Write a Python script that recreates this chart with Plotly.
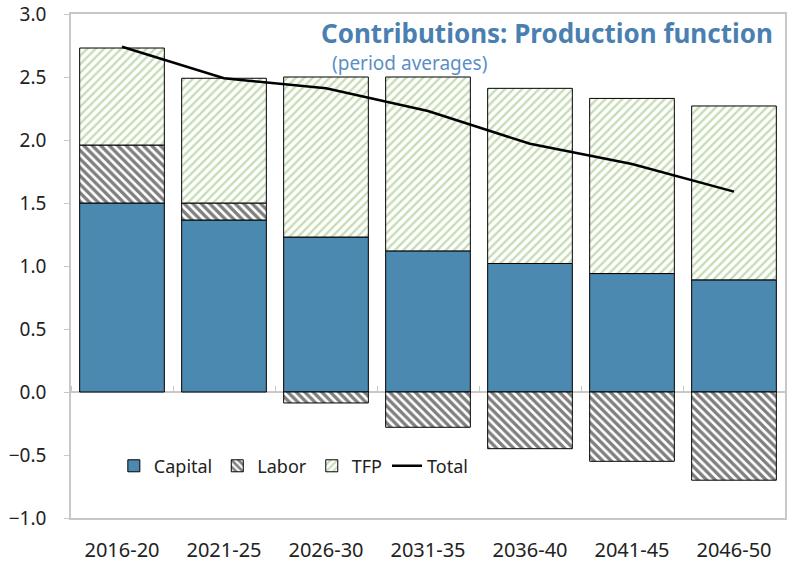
import plotly.graph_objects as go

periods = ["2016-20", "2021-25", "2026-30", "2031-35", "2036-40", "2041-45", "2046-50"]
capital = [1.50, 1.365, 1.23, 1.12, 1.02, 0.94, 0.89]
labor = [0.46, 0.135, -0.087, -0.28, -0.45, -0.55, -0.70]
tfp = [0.77, 0.99, 1.27, 1.38, 1.39, 1.39, 1.38]
total = [2.74, 2.49, 2.41, 2.23, 1.97, 1.81, 1.59]
yticks = [-1.0, -0.5, 0.0, 0.5, 1.0, 1.5, 2.0, 2.5, 3.0]

FONT = "Noto Sans"
fig = go.Figure()
fig.add_trace(go.Bar(x=periods, y=capital, name="Capital",
                     marker=dict(color="#4C89B0", line=dict(color="black", width=1))))
fig.add_trace(go.Bar(x=periods, y=labor, name="Labor",
                     marker=dict(color="white", line=dict(color="black", width=1),
                                 pattern=dict(shape="\\", fgcolor="black", bgcolor="white",
                                              size=6, solidity=0.55))))
fig.add_trace(go.Bar(x=periods, y=tfp, name="TFP",
                     marker=dict(color="white", line=dict(color="black", width=1),
                                 pattern=dict(shape="/", fgcolor="#8DBA6C", bgcolor="white",
                                              size=6, solidity=0.4))))
fig.add_trace(go.Scatter(x=periods, y=total, name="Total", mode="lines",
                         line=dict(color="black", width=2.5)))
# invisible trace for boundary ticks on the zero line
fig.add_trace(go.Scatter(x=periods, y=[0]*len(periods), xaxis="x2", mode="markers",
                         marker=dict(opacity=0), showlegend=False, hoverinfo="skip"))

fig.update_layout(
    width=790, height=563,
    margin=dict(l=71, r=5, t=14, b=45),
    barmode="relative", bargap=0.17,
    plot_bgcolor="white", paper_bgcolor="white",
    font=dict(family=FONT, size=18, color="#222222"),
    showlegend=True,
    legend=dict(orientation="h", x=0.06, y=0.103, xanchor="left", yanchor="middle",
                traceorder="normal", font=dict(size=18), bgcolor="rgba(0,0,0,0)",
                itemwidth=30, tracegroupgap=0),
    xaxis=dict(showline=True, linecolor="#C8C8C8", linewidth=1.5, mirror=True,
               ticks="", ticklabelstandoff=13, range=[-0.5, 6.5], automargin=False,
               tickfont=dict(size=20)),
    xaxis2=dict(overlaying="x", anchor="free", position=0.25, side="top",
                range=[-0.5, 6.5], tickson="boundaries", ticks="outside", ticklen=6,
                tickcolor="#C8C8C8", showticklabels=False, showline=False,
                showgrid=False, categoryorder="array", categoryarray=periods,
                automargin=False),
    yaxis=dict(range=[-1.0, 3.0], tickvals=yticks, tickformat=".1f",
               showgrid=False, showline=True, linecolor="#C8C8C8", linewidth=1.5,
               mirror=True, ticks="outside", ticklen=5, tickcolor="#C8C8C8",
               zeroline=True, zerolinecolor="#C8C8C8", zerolinewidth=1.5,
               ticklabelstandoff=14, automargin=False, tickfont=dict(size=19)),
    annotations=[
        dict(text="<b>Contributions: Production function</b>", xref="paper", yref="paper",
             x=0.986, y=0.962, xanchor="right", yanchor="middle", showarrow=False,
             font=dict(family=FONT, size=26, color="#4A7FB2")),
        dict(text="(period averages)", xref="paper", yref="paper",
             x=0.363, y=0.903, xanchor="left", yanchor="middle", showarrow=False,
             font=dict(family=FONT, size=19, color="#5B8FC4")),
    ],
)
fig.write_html("out.html", config={"displayModeBar": False},
               post_script="document.body.style.margin='0';")
